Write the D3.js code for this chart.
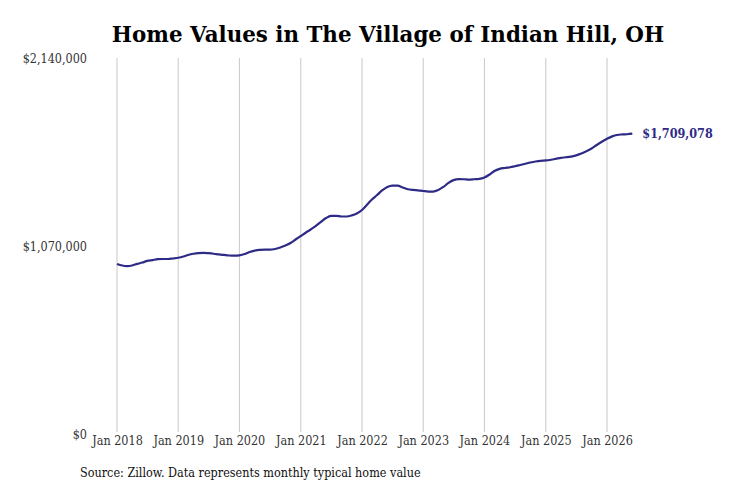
<!DOCTYPE html>
<html>
<head>
<meta charset="utf-8">
<title>Home Values in The Village of Indian Hill, OH</title>
<script src="https://cdn.jsdelivr.net/npm/d3@7"></script>
<style>
  body { margin: 0; background: #fff; }
  text { font-family: "DejaVu Serif", serif; }
</style>
</head>
<body>
<script>
// monthly typical home value, Jan 2018 .. Jun 2026
var startMonth = "2018-01";
var values = [
  968000, 959000, 956000, 959000, 968000, 976000, 985000, 990000, 995000, 996000, 996000, 999000,
  1003000, 1010000, 1019000, 1026000, 1030000, 1031000, 1029000, 1026000, 1022000, 1019000, 1016000, 1015000,
  1017000, 1024000, 1036000, 1044000, 1048000, 1049000, 1049000, 1053000, 1061000, 1073000, 1087000, 1107000,
  1127000, 1147000, 1164000, 1184000, 1207000, 1229000, 1241000, 1242000, 1238000, 1238000, 1244000, 1255000,
  1275000, 1306000, 1335000, 1360000, 1386000, 1406000, 1414000, 1414000, 1403000, 1393000, 1389000, 1387000,
  1383000, 1380000, 1380000, 1389000, 1406000, 1429000, 1445000, 1451000, 1450000, 1448000, 1450000, 1452000,
  1460000, 1477000, 1497000, 1509000, 1514000, 1518000, 1524000, 1531000, 1538000, 1545000, 1551000, 1555000,
  1557000, 1561000, 1566000, 1572000, 1575000, 1579000, 1586000, 1596000, 1610000, 1625000, 1645000, 1663000,
  1680000, 1694000, 1702000, 1705000, 1706000, 1709078
];
var yTicks = [0, 1070000, 2140000];
var xTickYears = [2018, 2019, 2020, 2021, 2022, 2023, 2024, 2025, 2026];

var width = 731, height = 487;
var lineColor = "#2e2a86";
var smallFont = "'DejaVu Serif Condensed', 'DejaVu Serif', serif";

var start = d3.timeParse("%Y-%m")(startMonth);
var data = values.map(function (v, i) {
  return { date: d3.timeMonth.offset(start, i), value: v };
});

var svg = d3.select("body").append("svg")
  .attr("width", width)
  .attr("height", height);

var x = d3.scaleTime()
  .domain([new Date(2018, 0, 1), new Date(2026, 0, 1)])
  .range([117, 607]);

var y = d3.scaleLinear()
  .domain([0, 2140000])
  .range([434, 58]);

// title
svg.append("text")
  .attr("x", 388)
  .attr("y", 42)
  .attr("text-anchor", "middle")
  .style("font-size", "21.4px")
  .style("font-weight", "bold")
  .text("Home Values in The Village of Indian Hill, OH");

// vertical grid lines
var xTicks = xTickYears.map(function (yr) { return new Date(yr, 0, 1); });
svg.append("g")
  .selectAll("line")
  .data(xTicks)
  .enter()
  .append("line")
  .attr("x1", function (d) { return x(d); })
  .attr("x2", function (d) { return x(d); })
  .attr("y1", y(2140000))
  .attr("y2", y(0) - 2)
  .attr("stroke", "#c8c8c8")
  .attr("stroke-width", 1);

// x axis labels
var xAxis = d3.axisBottom(x)
  .tickValues(xTicks)
  .tickFormat(d3.timeFormat("Jan %Y"))
  .tickSize(0)
  .tickPadding(0);
var gx = svg.append("g")
  .attr("transform", "translate(0,436)")
  .call(xAxis);
gx.select(".domain").remove();
gx.selectAll("text")
  .attr("fill", "#333")
  .style("font-family", smallFont)
  .style("font-stretch", "condensed")
  .style("font-size", "12.5px");

// y axis labels
var yAxis = d3.axisLeft(y)
  .tickValues(yTicks)
  .tickFormat(function (d) { return "$" + d3.format(",")(d); })
  .tickSize(0)
  .tickPadding(0);
var gy = svg.append("g")
  .attr("transform", "translate(87,0)")
  .call(yAxis);
gy.select(".domain").remove();
gy.selectAll("text")
  .attr("fill", "#333")
  .style("font-family", smallFont)
  .style("font-stretch", "condensed")
  .style("font-size", "12.5px");

// the line
var line = d3.line()
  .x(function (d) { return x(d.date); })
  .y(function (d) { return y(d.value); })
  .curve(d3.curveMonotoneX);

svg.append("path")
  .datum(data)
  .attr("fill", "none")
  .attr("stroke", lineColor)
  .attr("stroke-width", 2.2)
  .attr("stroke-linejoin", "round")
  .attr("d", line);

// last value label
var last = data[data.length - 1];
svg.append("text")
  .attr("x", x(last.date) + 10)
  .attr("y", y(last.value))
  .attr("dy", "0.35em")
  .attr("fill", lineColor)
  .style("font-size", "12.5px")
  .style("font-weight", "bold")
  .style("font-family", smallFont)
  .style("font-stretch", "condensed")
  .text("$" + d3.format(",")(last.value));

// source note
svg.append("text")
  .attr("x", 80)
  .attr("y", 477)
  .attr("fill", "#111")
  .style("font-family", smallFont)
  .style("font-stretch", "condensed")
  .style("font-size", "12.5px")
  .text("Source: Zillow. Data represents monthly typical home value");
</script>
</body>
</html>
